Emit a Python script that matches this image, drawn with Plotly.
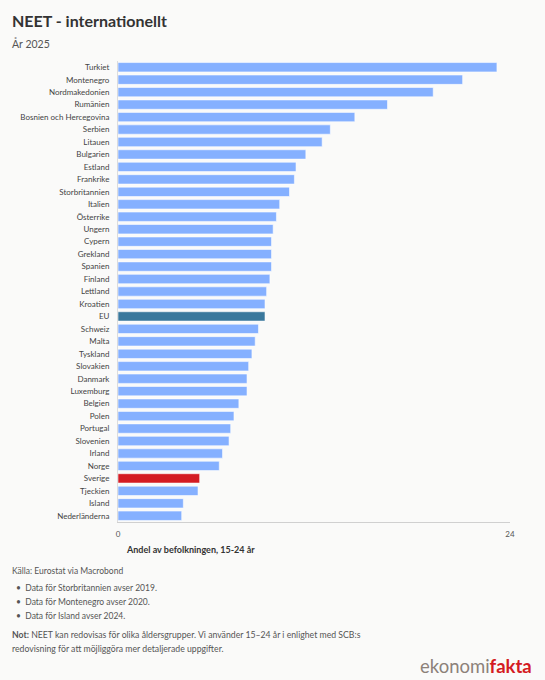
import plotly.graph_objects as go

countries = ["Turkiet", "Montenegro", "Nordmakedonien", "Rumänien", "Bosnien och Hercegovina",
             "Serbien", "Litauen", "Bulgarien", "Estland", "Frankrike", "Storbritannien",
             "Italien", "Österrike", "Ungern", "Cypern", "Grekland", "Spanien", "Finland",
             "Lettland", "Kroatien", "EU", "Schweiz", "Malta", "Tyskland", "Slovakien",
             "Danmark", "Luxemburg", "Belgien", "Polen", "Portugal", "Slovenien", "Irland",
             "Norge", "Sverige", "Tjeckien", "Island", "Nederländerna"]
values = [23.2, 21.1, 19.3, 16.5, 14.5, 13.0, 12.5, 11.5, 10.9, 10.8, 10.5,
          9.9, 9.7, 9.5, 9.4, 9.4, 9.4, 9.3, 9.1, 9.0, 9.0, 8.6, 8.4, 8.2, 8.0,
          7.9, 7.9, 7.4, 7.1, 6.9, 6.8, 6.4, 6.2, 5.0, 4.9, 4.0, 3.9]
x_ticks = [0, 24]

BASE = "#85b0ff"
EU_C = "#3a789c"
SE_C = "#d41b23"
colors = [EU_C if c == "EU" else SE_C if c == "Sverige" else BASE for c in countries]

FONT = "Lato, 'Noto Sans', sans-serif"
BG = "#fafaf9"
W, H = 545, 680
L, R, T, B = 118, 35, 61, 158
PW, PH = W - L - R, H - T - B

fig = go.Figure(go.Bar(
    x=values, y=countries, orientation="h",
    marker=dict(color=colors, line=dict(color="rgba(255,255,255,0.55)", width=1)),
    hoverinfo="x+y",
))

fig.update_layout(
    width=W, height=H,
    margin=dict(l=L, r=R, t=T, b=B),
    paper_bgcolor=BG, plot_bgcolor=BG,
    bargap=0.25,
    showlegend=False,
    font=dict(family=FONT, size=8, color="#444"),
    xaxis=dict(range=[0, 24], tickvals=x_ticks, ticktext=[str(t) for t in x_ticks],
               showgrid=False, zeroline=False, showline=True, linecolor="#d0d0d0",
               linewidth=1, ticks="", ticklen=0, ticklabelstandoff=4,
               tickfont=dict(size=8, color="#555"), fixedrange=True),
    yaxis=dict(categoryorder="array", categoryarray=countries, autorange="reversed",
               showgrid=False, zeroline=False, showline=True, linecolor="#dcdcdc",
               ticks="", ticklabelstandoff=6, tickfont=dict(size=8, color="#444"),
               fixedrange=True),
)


def px(x, y):
    return (x - L) / PW, 1 - (y - T) / PH


annos = [
    dict(text="<b>NEET - internationellt</b>", x=10, y=20, font=dict(size=16, color="#333")),
    dict(text="År 2025", x=10, y=43, font=dict(size=10.5, color="#555")),
    dict(text="<b>Andel av befolkningen, 15-24 år</b>", x=124, y=549, font=dict(size=9, color="#333")),
    dict(text="Källa: Eurostat via Macrobond", x=10, y=571, font=dict(size=8.5, color="#555")),
    dict(text="•  Data för Storbritannien avser 2019.", x=14, y=588, font=dict(size=8.5, color="#555")),
    dict(text="•  Data för Montenegro avser 2020.", x=14, y=602, font=dict(size=8.5, color="#555")),
    dict(text="•  Data för Island avser 2024.", x=14, y=616, font=dict(size=8.5, color="#555")),
    dict(text="<b>Not:</b> NEET kan redovisas för olika åldersgrupper. Vi använder 15–24 år i enlighet med SCB:s",
         x=10, y=634, font=dict(size=8.7, color="#555")),
    dict(text="redovisning för att möjliggöra mer detaljerade uppgifter.", x=10, y=648,
         font=dict(size=8.7, color="#555")),
]
for a in annos:
    ax, ay = px(a["x"], a["y"])
    fig.add_annotation(text=a["text"], x=ax, y=ay,
                       xref="paper", yref="paper", xanchor="left", yanchor="middle",
                       showarrow=False, font=dict(family=FONT, **a["font"]))

# Logo
lx, ly = px(534, 666)
fig.add_annotation(text="<span style='color:#8c8179'>ekonomi</span><b><span style='color:#d41b23'>fakta</span></b>",
                   x=lx, y=ly, xref="paper", yref="paper",
                   xanchor="right", yanchor="middle", showarrow=False,
                   font=dict(family=FONT, size=18.5))

fig.write_html("out.html")
